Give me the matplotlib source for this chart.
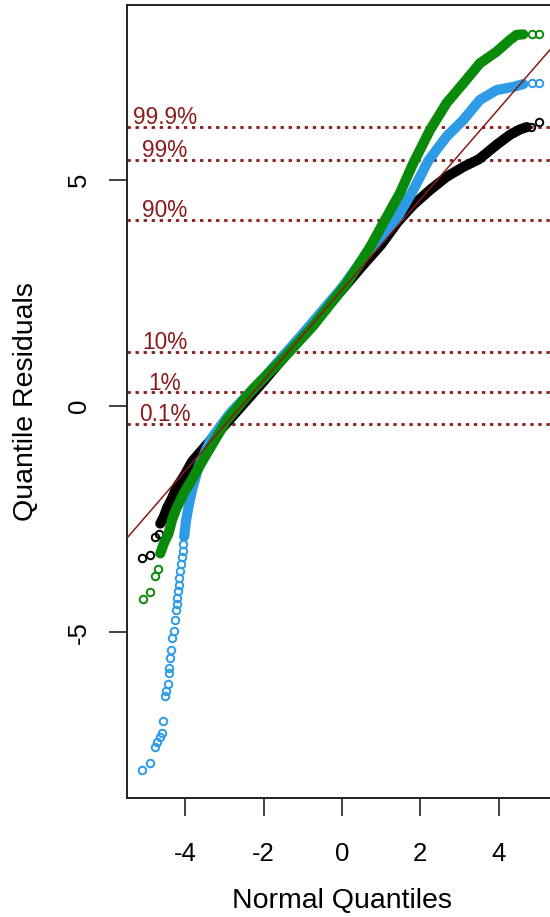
import matplotlib
matplotlib.use("Agg")
import matplotlib.pyplot as plt

plt.rcParams["font.family"] = ["Liberation Sans", "DejaVu Sans"]
plt.rcParams["axes.unicode_minus"] = False

# --- quantile residuals, read off the fitted models ---
# dense part of each curve (drawn as a thick band) plus the sparse tail points
black_band_x = [-4.64, -4.55, -4.47, -4.34, -4.21, -4.04, -3.83, -3.40, -3.00, -2.00,
                -1.00, 0.00, 0.50, 1.00, 1.43, 1.82, 2.25, 2.67, 3.10, 3.50, 3.95, 4.29,
                4.55, 4.72]
black_band_y = [-2.60, -2.45, -2.26, -2.04, -1.78, -1.56, -1.23, -0.80, -0.43, 0.55,
                1.57, 2.57, 3.08, 3.57, 4.08, 4.45, 4.78, 5.07, 5.29, 5.46, 5.78, 6.00,
                6.12, 6.17]
black_tail_x = [-5.11, -4.90, -4.77, -4.68, 4.82, 5.02]
black_tail_y = [-3.36, -3.30, -2.90, -2.82, 6.17, 6.29]

blue_band_x = [-4.03, -3.98, -3.92, -3.83, -3.66, -3.36, -2.86, -2.00, -1.00, 0.00,
               0.60, 1.00, 1.40, 1.82, 2.20, 2.67, 3.10, 3.52, 3.95, 4.38, 4.63]
blue_band_y = [-2.89, -2.52, -2.23, -1.86, -1.34, -0.75, -0.16, 0.62, 1.60, 2.62,
               3.33, 3.72, 4.15, 4.78, 5.42, 5.96, 6.33, 6.77, 6.99, 7.06, 7.12]
blue_tail_x = [-4.05, -4.07, -4.09, -4.11, -4.13, -4.15, -4.17, -4.19, -4.21, -4.22,
               -4.24, -4.27, -4.30, -4.34, -4.37, -4.39, -4.43, -4.43, -4.45, -4.50,
               -4.53, -4.56, -4.60, -4.65, -4.72, -4.78, -4.89, -5.10, 4.85, 5.04]
blue_tail_y = [-3.05, -3.20, -3.35, -3.50, -3.65, -3.80, -3.95, -4.10, -4.25, -4.37,
               -4.51, -4.73, -4.97, -5.14, -5.39, -5.58, -5.80, -5.90, -6.15, -6.30,
               -6.42, -6.97, -7.23, -7.32, -7.43, -7.55, -7.89, -8.04, 7.15, 7.15]

green_band_x = [-4.64, -4.55, -4.43, -4.34, -4.21, -4.04, -3.79, -3.45, -2.94, -2.27,
                -1.50, -0.73, 0.12, 0.72, 1.10, 1.48, 1.82, 2.25, 2.67, 3.10, 3.52,
                3.95, 4.29, 4.46, 4.63]
green_band_y = [-3.26, -3.04, -2.82, -2.52, -2.23, -1.93, -1.56, -1.05, -0.31, 0.38,
                1.05, 1.78, 2.71, 3.52, 4.12, 4.71, 5.37, 6.11, 6.70, 7.14, 7.58,
                7.84, 8.10, 8.21, 8.22]
green_tail_x = [-5.09, -4.89, -4.78, -4.69, 4.85, 5.04]
green_tail_y = [-4.27, -4.12, -3.77, -3.61, 8.22, 8.22]

# reference line y = a + b * x
ref_intercept = 2.57
ref_slope = 1.0

# empirical percentiles of the response
pct_levels = [6.18, 5.45, 4.11, 1.20, 0.30, -0.39]
pct_labels = ["99.9%", "99%", "90%", "10%", "1%", "0.1%"]

x_ticks = [-4, -2, 0, 2, 4]
y_ticks = [-5, 0, 5]

RED = "#8B1A1A"
series = [
    (black_band_x, black_band_y, black_tail_x, black_tail_y, "#000000"),
    (blue_band_x, blue_band_y, blue_tail_x, blue_tail_y, "#2D9BE5"),
    (green_band_x, green_band_y, green_tail_x, green_tail_y, "#0A8A0A"),
]

fig = plt.figure(figsize=(5.5, 9.17), dpi=100)
# plot region runs a little past the right edge of the figure
ax = fig.add_axes([127 / 550, 1 - 798 / 917, 430 / 550, 793 / 917])

for lvl in pct_levels:
    ax.axhline(lvl, color=RED, lw=2.0, linestyle=(0, (1.2, 1.7)), zorder=1)

for bx, by, tx, ty, col in series:
    ax.plot(bx, by, color=col, lw=7.3, solid_capstyle="round",
            solid_joinstyle="round", zorder=2)
    ax.plot(tx, ty, linestyle="none", marker="o", ms=5.4, mew=1.4,
            mfc="none", mec=col, zorder=2)

ax.axline((0, ref_intercept), slope=ref_slope, color=RED, lw=1.1, zorder=3)

for lvl, lab in zip(pct_levels, pct_labels):
    ax.annotate(lab, (-4.53, lvl), xytext=(0, 2), textcoords="offset points",
                ha="center", va="baseline", color=RED, fontsize=16.3)

ax.set_xlim(-5.49, 5.49)
ax.set_ylim(-8.67, 8.87)
ax.set_xticks(x_ticks)
ax.set_yticks(y_ticks)
ax.tick_params(length=13, width=1.2, labelsize=18.5, color="#222222")
ax.tick_params(axis="x", pad=19)
ax.tick_params(axis="y", pad=13)
for lab in ax.get_yticklabels():
    lab.set_rotation(90)
    lab.set_va("center")
for sp in ax.spines.values():
    sp.set_linewidth(1.4)
    sp.set_color("#222222")

ax.set_xlabel("Normal Quantiles", fontsize=20.5)
ax.set_ylabel("Quantile Residuals", fontsize=20.5)
ax.xaxis.set_label_coords(0.5, -0.113)
ax.yaxis.set_label_coords(-0.205, 0.5)

fig.savefig("out.png", dpi=100)
